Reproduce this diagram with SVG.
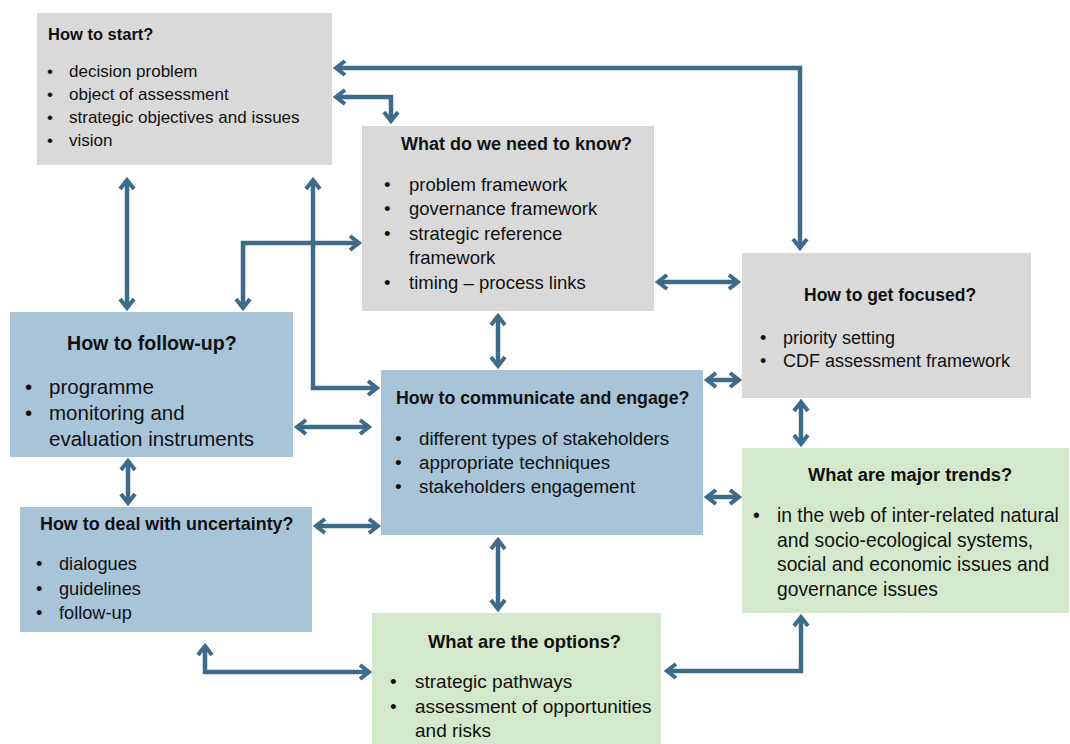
<svg xmlns="http://www.w3.org/2000/svg" width="1070" height="744" viewBox="0 0 1070 744">
  <style>
    text { font-family: "Liberation Sans", Arial, sans-serif; fill: #111; }
    .t { font-weight: bold; }
    .gray { fill: #d9d9d9; }
    .blue { fill: #a8c4d8; }
    .green { fill: #d4e9cb; }
    .link { fill: none; stroke: #3e6b89; stroke-width: 4.5; marker-start: url(#ah); marker-end: url(#ah); }
  </style>
  <defs>
    <marker id="ah" viewBox="-14 -10 20 20" refX="0" refY="0" markerWidth="20" markerHeight="20" markerUnits="userSpaceOnUse" orient="auto-start-reverse">
      <path d="M-9,-7 L0,0 L-9,7" fill="none" stroke="#3e6b89" stroke-width="4"/>
    </marker>
  </defs>
  <rect width="1070" height="744" fill="#ffffff"/>

  <!-- boxes -->
  <g id="start">
    <rect class="gray" x="37" y="13" width="295" height="152"/>
    <g font-size="16.5"><text class="t" x="48" y="40">How to start?</text></g>
    <g font-size="17">
      <text x="47" y="77">•</text><text x="69" y="77">decision problem</text>
      <text x="47" y="100">•</text><text x="69" y="100">object of assessment</text>
      <text x="47" y="123">•</text><text x="69" y="123">strategic objectives and issues</text>
      <text x="47" y="146">•</text><text x="69" y="146">vision</text>
    </g>
  </g>

  <g id="know">
    <rect class="gray" x="362" y="126" width="292" height="185"/>
    <g font-size="18"><text class="t" x="401" y="150">What do we need to know?</text></g>
    <g font-size="18.5">
      <text x="384" y="191">•</text><text x="409" y="191">problem framework</text>
      <text x="384" y="215">•</text><text x="409" y="215">governance framework</text>
      <text x="384" y="240">•</text><text x="409" y="240">strategic reference</text>
      <text x="409" y="264">framework</text>
      <text x="384" y="289">•</text><text x="409" y="289">timing – process links</text>
    </g>
  </g>

  <g id="focused">
    <rect class="gray" x="742" y="253" width="289" height="145"/>
    <g font-size="17.5"><text class="t" x="804" y="301">How to get focused?</text></g>
    <g font-size="18">
      <text x="760" y="344">•</text><text x="783" y="344">priority setting</text>
      <text x="760" y="367">•</text><text x="783" y="367">CDF assessment framework</text>
    </g>
  </g>

  <g id="follow-up">
    <rect class="blue" x="10" y="312" width="283" height="145"/>
    <g font-size="19.6"><text class="t" x="67" y="350">How to follow-up?</text></g>
    <g font-size="20.5">
      <text x="25" y="394">•</text><text x="49" y="394">programme</text>
      <text x="25" y="420">•</text><text x="49" y="420">monitoring and</text>
      <text x="49" y="446">evaluation instruments</text>
    </g>
  </g>

  <g id="communicate">
    <rect class="blue" x="381" y="370" width="322" height="165"/>
    <g font-size="17.8"><text class="t" x="396" y="404">How to communicate and engage?</text></g>
    <g font-size="18.8">
      <text x="395" y="445">•</text><text x="419" y="445">different types of stakeholders</text>
      <text x="395" y="469">•</text><text x="419" y="469">appropriate techniques</text>
      <text x="395" y="493">•</text><text x="419" y="493">stakeholders engagement</text>
    </g>
  </g>

  <g id="trends">
    <rect class="green" x="742" y="448" width="327" height="165"/>
    <g font-size="18.3"><text class="t" x="808" y="481">What are major trends?</text></g>
    <g font-size="19.3">
      <text x="753" y="522">•</text><text x="777" y="522">in the web of inter-related natural</text>
      <text x="777" y="547">and socio-ecological systems,</text>
      <text x="777" y="571">social and economic issues and</text>
      <text x="777" y="596">governance issues</text>
    </g>
  </g>

  <g id="uncertainty">
    <rect class="blue" x="20" y="507" width="292" height="125"/>
    <g font-size="17.9"><text class="t" x="40" y="530">How to deal with uncertainty?</text></g>
    <g font-size="18.2">
      <text x="36" y="570">•</text><text x="59" y="570">dialogues</text>
      <text x="36" y="595">•</text><text x="59" y="595">guidelines</text>
      <text x="36" y="619">•</text><text x="59" y="619">follow-up</text>
    </g>
  </g>

  <g id="options">
    <rect class="green" x="372" y="613" width="289" height="131"/>
    <g font-size="18.4"><text class="t" x="428" y="648">What are the options?</text></g>
    <g font-size="19">
      <text x="390" y="688">•</text><text x="415" y="688">strategic pathways</text>
      <text x="390" y="713">•</text><text x="415" y="713">assessment of opportunities</text>
      <text x="415" y="737">and risks</text>
    </g>
  </g>

  <!-- connectors, each drawn with an arrowhead at both ends -->
  <g id="connectors">
    <path class="link" d="M336,68 H800 V248"/>
    <path class="link" d="M336,97 H391 V121"/>
    <path class="link" d="M658,282 H738"/>
    <path class="link" d="M498,316 V366"/>
    <path class="link" d="M243,308 V243 H359"/>
    <path class="link" d="M127,180 V308"/>
    <path class="link" d="M313,180 V388 H377"/>
    <path class="link" d="M297,427 H369"/>
    <path class="link" d="M128,461 V503"/>
    <path class="link" d="M316,526 H378"/>
    <path class="link" d="M707,380 H739"/>
    <path class="link" d="M707,497 H739"/>
    <path class="link" d="M801,402 V444"/>
    <path class="link" d="M498,540 V609"/>
    <path class="link" d="M205,646 V672 H369"/>
    <path class="link" d="M667,671 H801 V617"/>
  </g>
</svg>
